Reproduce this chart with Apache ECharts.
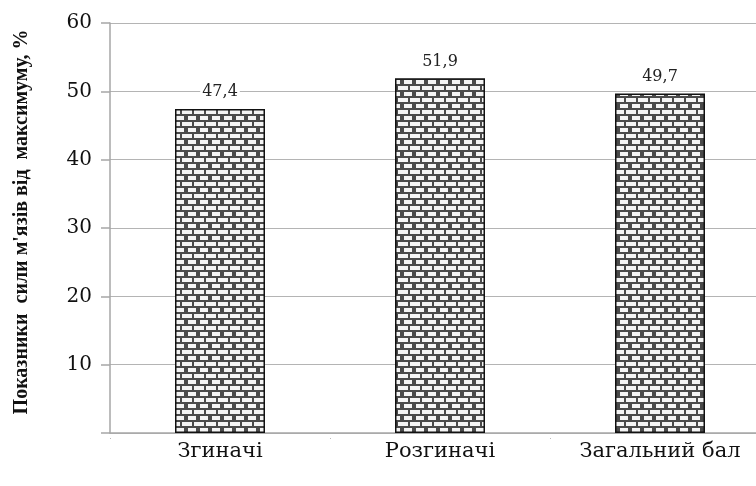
<!DOCTYPE html>
<html>
<head>
<meta charset="utf-8">
<script src="https://cdn.jsdelivr.net/npm/echarts@6/dist/echarts.min.js"></script>
<style>
  html, body { margin: 0; padding: 0; background: #fff; overflow: hidden; }
  #wrap { width: 756px; height: 486px; overflow: hidden; }
  #chart { width: 770px; height: 486px; }
</style>
</head>
<body>
<div id="wrap"><div id="chart"></div></div>
<script>
// Muscle strength indicators, percent of maximum
const categories = ['Згиначі', 'Розгиначі', 'Загальний бал'];
const values = [47.4, 51.9, 49.7];
const yTicks = [0, 10, 20, 30, 40, 50, 60];
const yAxisTitle = "Показники  сили м'язів від  максимуму, %";

// Brick fill tile: light bricks with dark mortar, alternate rows shifted by half a brick
function brickPattern() {
  const c = document.createElement('canvas');
  c.width = 12; c.height = 12;
  const g = c.getContext('2d');
  g.fillStyle = '#4a4a4a';
  g.fillRect(0, 0, 12, 12);
  g.fillStyle = '#f4f4f4';
  g.fillRect(2, 2, 10, 4);
  g.fillRect(0, 8, 4, 4);
  g.fillRect(8, 8, 4, 4);
  return c;
}

const chart = echarts.init(document.getElementById('chart'), null, { renderer: 'canvas' });
const serif = '"DejaVu Serif", "Liberation Serif", serif';
const titleSerif = '"Liberation Serif", "DejaVu Serif", serif';

chart.setOption({
  animation: false,
  backgroundColor: '#fff',
  grid: { left: 110, right: 0, top: 23, bottom: 53, outerBoundsMode: 'none', containLabel: false },
  xAxis: [{
    type: 'category',
    data: categories,
    axisLine: { show: true, lineStyle: { color: '#a6a6a6', width: 1.5 } },
    axisTick: { show: false },
    axisLabel: { margin: 8, fontFamily: serif, fontSize: 21, color: '#111' }
  }, {
    type: 'category',
    data: categories,
    position: 'bottom',
    offset: 5,
    axisLine: { show: false },
    axisTick: { show: true, length: 1, lineStyle: { color: '#bbb', width: 1 } },
    axisLabel: { show: false }
  }],
  yAxis: {
    type: 'value',
    min: 0,
    max: 60,
    interval: 10,
    name: yAxisTitle,
    nameLocation: 'middle',
    nameGap: 78,
    nameTextStyle: { fontFamily: titleSerif, fontWeight: 'bold', fontSize: 20, color: '#111', padding: [0, 0, 0, 12] },
    axisLine: { show: true, lineStyle: { color: '#a6a6a6', width: 1.5 } },
    axisTick: { show: true, inside: false, length: 9, lineStyle: { color: '#a6a6a6', width: 1.5 } },
    splitLine: { show: true, lineStyle: { color: '#b4b4b4', width: 1.2 } },
    axisLabel: {
      margin: 18,
      fontFamily: serif,
      fontSize: 20,
      color: '#111',
      formatter: v => (v === 0 || yTicks.indexOf(v) < 0) ? '' : String(v)
    }
  },
  series: [{
    type: 'bar',
    data: values,
    barWidth: 90,
    itemStyle: {
      color: { image: brickPattern(), repeat: 'repeat' },
      borderColor: '#111',
      borderWidth: 1.5
    },
    label: {
      show: true,
      position: 'top',
      distance: 9,
      fontFamily: serif,
      fontSize: 16,
      color: '#222',
      backgroundColor: '#fff',
      padding: [0, 2],
      formatter: p => String(p.value).replace('.', ',')
    }
  }]
});
</script>
</body>
</html>
